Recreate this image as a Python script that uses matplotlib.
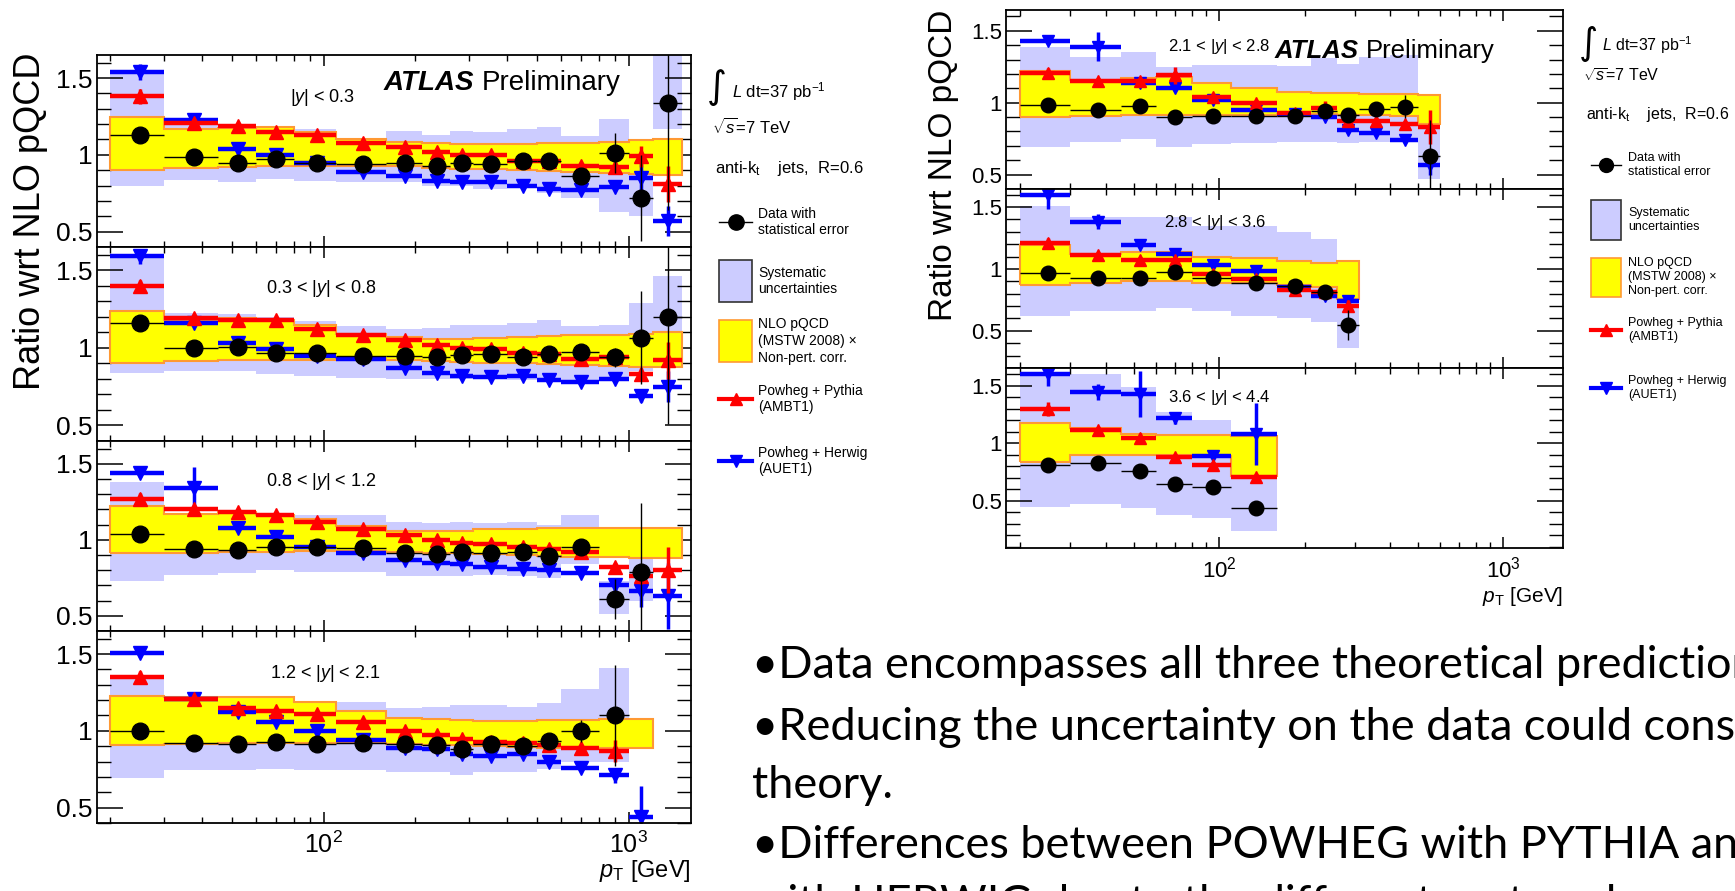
import numpy as np
import matplotlib
matplotlib.use('Agg')
import matplotlib.pyplot as plt
from matplotlib.patches import Rectangle
from matplotlib.lines import Line2D
from matplotlib.ticker import FixedLocator, MultipleLocator, NullFormatter

plt.rcParams['font.family'] = ['Liberation Sans', 'DejaVu Sans']
plt.rcParams['mathtext.fontset'] = 'custom'
plt.rcParams['mathtext.rm'] = 'Liberation Sans'
plt.rcParams['mathtext.it'] = 'Liberation Sans:italic'
plt.rcParams['mathtext.bf'] = 'Liberation Sans:bold'

# pT bin edges [GeV]
edges = [20, 30, 45, 60, 80, 110, 160, 210, 260, 310, 400, 500, 600, 800, 1000, 1200, 1500]

# left plot: 4 rapidity bins
rap_left = ['$|y|$ < 0.3', '0.3 < $|y|$ < 0.8', '0.8 < $|y|$ < 1.2', '1.2 < $|y|$ < 2.1']
data_left = [
    [1.13, 0.985, 0.946, 0.974, 0.95, 0.94, 0.946, 0.93, 0.95, 0.94, 0.957, 0.96, 0.865, 1.01, 0.72, 1.34],
    [1.16, 1.0, 1.005, 0.97, 0.97, 0.95, 0.945, 0.94, 0.955, 0.96, 0.94, 0.96, 0.975, 0.94, 1.065, 1.20],
    [1.035, 0.937, 0.935, 0.952, 0.952, 0.948, 0.91, 0.905, 0.92, 0.913, 0.92, 0.894, 0.95, 0.61, 0.79],
    [1.0, 0.924, 0.917, 0.928, 0.913, 0.922, 0.917, 0.907, 0.885, 0.913, 0.90, 0.933, 0.998, 1.10],
]
derr_left = [
    [0.01, 0.01, 0.01, 0.01, 0.01, 0.01, 0.01, 0.01, 0.01, 0.01, 0.01, 0.015, 0.03, 0.13, 0.28, 0.7],
    [0.01, 0.01, 0.01, 0.01, 0.01, 0.01, 0.01, 0.01, 0.01, 0.01, 0.01, 0.015, 0.03, 0.06, 0.30, 0.69],
    [0.01, 0.01, 0.01, 0.01, 0.01, 0.01, 0.01, 0.01, 0.01, 0.01, 0.01, 0.015, 0.03, 0.13, 0.45],
    [0.01, 0.01, 0.01, 0.01, 0.01, 0.01, 0.01, 0.01, 0.01, 0.01, 0.01, 0.02, 0.07, 0.33],
]
sys_lo_left = [
    [0.80, 0.835, 0.82, 0.845, 0.83, 0.82, 0.82, 0.80, 0.80, 0.78, 0.785, 0.75, 0.72, 0.63, 0.60, 1.17],
    [0.84, 0.85, 0.85, 0.83, 0.82, 0.805, 0.80, 0.80, 0.80, 0.80, 0.79, 0.78, 0.79, 0.79, 0.85, 0.87],
    [0.73, 0.77, 0.78, 0.80, 0.79, 0.79, 0.76, 0.76, 0.76, 0.77, 0.76, 0.75, 0.84, 0.51, 0.60],
    [0.696, 0.748, 0.745, 0.75, 0.745, 0.745, 0.735, 0.735, 0.71, 0.735, 0.73, 0.75, 0.80, 0.80],
]
sys_hi_left = [
    [1.54, 1.235, 1.20, 1.19, 1.17, 1.10, 1.157, 1.13, 1.157, 1.15, 1.17, 1.18, 1.12, 1.235, 0.90, 1.70],
    [1.58, 1.225, 1.22, 1.20, 1.17, 1.14, 1.12, 1.13, 1.15, 1.15, 1.16, 1.18, 1.14, 1.15, 1.29, 1.46],
    [1.38, 1.16, 1.17, 1.16, 1.165, 1.16, 1.115, 1.11, 1.12, 1.11, 1.12, 1.10, 1.165, 0.73, 0.95],
    [1.357, 1.22, 1.22, 1.20, 1.19, 1.19, 1.146, 1.157, 1.17, 1.17, 1.152, 1.18, 1.27, 1.41],
]
nlo_lo_left = [
    [0.90, 0.915, 0.92, 0.925, 0.925, 0.93, 0.93, 0.915, 0.91, 0.905, 0.90, 0.895, 0.89, 0.885, 0.875, 0.87],
    [0.90, 0.915, 0.92, 0.92, 0.92, 0.93, 0.92, 0.915, 0.91, 0.905, 0.90, 0.895, 0.89, 0.885, 0.88, 0.875],
    [0.91, 0.915, 0.92, 0.92, 0.925, 0.925, 0.92, 0.91, 0.91, 0.905, 0.90, 0.895, 0.89, 0.885, 0.88, 0.88],
    [0.906, 0.915, 0.92, 0.92, 0.92, 0.92, 0.915, 0.91, 0.905, 0.90, 0.895, 0.89, 0.89, 0.89, 0.89],
]
nlo_hi_left = [
    [1.245, 1.17, 1.175, 1.18, 1.15, 1.10, 1.085, 1.075, 1.07, 1.07, 1.07, 1.075, 1.08, 1.085, 1.095, 1.10],
    [1.24, 1.18, 1.19, 1.18, 1.15, 1.09, 1.07, 1.06, 1.06, 1.065, 1.07, 1.075, 1.08, 1.085, 1.09, 1.10],
    [1.225, 1.17, 1.18, 1.16, 1.14, 1.09, 1.06, 1.06, 1.06, 1.07, 1.07, 1.075, 1.075, 1.076, 1.076, 1.076],
    [1.226, 1.22, 1.22, 1.22, 1.19, 1.13, 1.085, 1.075, 1.07, 1.065, 1.065, 1.07, 1.07, 1.075, 1.075],
]
pyt_left = [
    [1.38, 1.21, 1.19, 1.15, 1.13, 1.08, 1.05, 1.02, 1.00, 1.00, 0.96, 0.96, 0.93, 0.92, 0.99, 0.81],
    [1.40, 1.19, 1.18, 1.18, 1.12, 1.08, 1.05, 1.02, 1.00, 0.99, 0.97, 0.96, 0.93, 0.94, 0.83, 0.92],
    [1.27, 1.20, 1.18, 1.16, 1.12, 1.07, 1.03, 1.00, 0.98, 0.97, 0.95, 0.94, 0.92, 0.82, 0.76, 0.80],
    [1.35, 1.21, 1.15, 1.13, 1.11, 1.06, 1.0, 0.97, 0.95, 0.93, 0.92, 0.91, 0.89, 0.87],
]
pyt_err_left = [
    [0.05, 0.02, 0.02, 0.02, 0.01, 0.01, 0.01, 0.01, 0.01, 0.01, 0.01, 0.01, 0.01, 0.02, 0.07, 0.12],
    [0.04, 0.02, 0.02, 0.02, 0.01, 0.01, 0.01, 0.01, 0.01, 0.01, 0.01, 0.01, 0.01, 0.02, 0.04, 0.12],
    [0.04, 0.02, 0.02, 0.02, 0.01, 0.01, 0.01, 0.01, 0.01, 0.01, 0.01, 0.01, 0.01, 0.03, 0.05, 0.15],
    [0.04, 0.02, 0.02, 0.02, 0.01, 0.01, 0.01, 0.01, 0.01, 0.01, 0.01, 0.01, 0.01, 0.07],
]
her_left = [
    [1.54, 1.23, 1.04, 1.00, 0.95, 0.89, 0.86, 0.83, 0.82, 0.82, 0.80, 0.78, 0.77, 0.79, 0.85, 0.57],
    [1.59, 1.16, 1.03, 0.99, 0.95, 0.93, 0.87, 0.84, 0.82, 0.81, 0.82, 0.79, 0.78, 0.80, 0.69, 0.75],
    [1.44, 1.34, 1.08, 1.02, 0.95, 0.91, 0.87, 0.85, 0.84, 0.82, 0.81, 0.80, 0.78, 0.70, 0.66, 0.63],
    [1.51, 1.21, 1.12, 1.06, 1.0, 0.94, 0.89, 0.885, 0.85, 0.835, 0.85, 0.80, 0.76, 0.71, 0.44],
]
her_err_left = [
    [0.05, 0.02, 0.02, 0.02, 0.01, 0.01, 0.01, 0.01, 0.01, 0.01, 0.01, 0.01, 0.01, 0.02, 0.10, 0.10],
    [0.05, 0.02, 0.02, 0.02, 0.01, 0.01, 0.01, 0.01, 0.01, 0.01, 0.01, 0.01, 0.01, 0.02, 0.04, 0.10],
    [0.03, 0.14, 0.02, 0.02, 0.01, 0.01, 0.01, 0.01, 0.01, 0.01, 0.01, 0.01, 0.01, 0.04, 0.10, 0.22],
    [0.03, 0.02, 0.02, 0.02, 0.01, 0.01, 0.01, 0.01, 0.01, 0.01, 0.01, 0.01, 0.01, 0.05, 0.20],
]

# right plot: 3 forward rapidity bins
rap_right = ['2.1 < $|y|$ < 2.8', '2.8 < $|y|$ < 3.6', '3.6 < $|y|$ < 4.4']
data_right = [
    [0.984, 0.95, 0.977, 0.90, 0.91, 0.91, 0.91, 0.94, 0.914, 0.954, 0.972, 0.63],
    [0.963, 0.927, 0.927, 0.973, 0.927, 0.887, 0.86, 0.815, 0.545],
    [0.81, 0.83, 0.76, 0.65, 0.62, 0.44],
]
derr_right = [
    [0.01, 0.01, 0.01, 0.01, 0.01, 0.01, 0.01, 0.01, 0.02, 0.03, 0.08, 0.25],
    [0.01, 0.01, 0.01, 0.01, 0.01, 0.01, 0.01, 0.02, 0.12],
    [0.02, 0.02, 0.02, 0.02, 0.02, 0.02],
]
sys_lo_right = [
    [0.694, 0.73, 0.75, 0.69, 0.71, 0.72, 0.73, 0.73, 0.72, 0.73, 0.73, 0.47],
    [0.618, 0.66, 0.66, 0.685, 0.66, 0.62, 0.605, 0.57, 0.36],
    [0.45, 0.47, 0.44, 0.377, 0.355, 0.24],
]
sys_hi_right = [
    [1.39, 1.315, 1.355, 1.25, 1.26, 1.26, 1.255, 1.31, 1.27, 1.315, 1.33, 0.88],
    [1.51, 1.42, 1.42, 1.42, 1.35, 1.35, 1.30, 1.24, 0.76],
    [1.603, 1.60, 1.49, 1.27, 1.20, 1.07],
]
nlo_lo_right = [
    [0.898, 0.907, 0.915, 0.915, 0.915, 0.915, 0.92, 0.92, 0.915, 0.915, 0.91, 0.85],
    [0.874, 0.89, 0.90, 0.90, 0.89, 0.89, 0.87, 0.85, 0.76],
    [0.84, 0.90, 0.90, 0.90, 0.89, 0.716],
]
nlo_hi_right = [
    [1.223, 1.158, 1.17, 1.18, 1.14, 1.10, 1.077, 1.07, 1.07, 1.06, 1.06, 1.053],
    [1.19, 1.124, 1.134, 1.134, 1.10, 1.09, 1.06, 1.05, 1.06],
    [1.18, 1.13, 1.08, 1.07, 1.07, 1.064],
]
pyt_right = [
    [1.21, 1.15, 1.15, 1.19, 1.04, 1.00, 0.93, 0.96, 0.87, 0.87, 0.85, 0.83],
    [1.21, 1.11, 1.075, 1.075, 0.955, 0.92, 0.83, 0.81, 0.70],
    [1.30, 1.12, 1.05, 0.88, 0.81, 0.71],
]
pyt_err_right = [
    [0.03, 0.02, 0.02, 0.06, 0.02, 0.02, 0.02, 0.05, 0.02, 0.02, 0.02, 0.12],
    [0.04, 0.02, 0.02, 0.02, 0.02, 0.02, 0.02, 0.02, 0.05],
    [0.06, 0.02, 0.04, 0.02, 0.02, 0.02],
]
her_right = [
    [1.43, 1.39, 1.14, 1.10, 1.02, 0.95, 0.92, 0.90, 0.81, 0.79, 0.74, 0.57],
    [1.60, 1.38, 1.195, 1.12, 1.03, 0.98, 0.85, 0.78, 0.74],
    [1.60, 1.45, 1.43, 1.22, 0.89, 1.08],
]
her_err_right = [
    [0.02, 0.10, 0.02, 0.02, 0.02, 0.02, 0.02, 0.02, 0.02, 0.02, 0.02, 0.07],
    [0.12, 0.06, 0.03, 0.02, 0.02, 0.02, 0.02, 0.02, 0.05],
    [0.10, 0.07, 0.20, 0.05, 0.02, 0.27],
]

bullets = [
    '\u2022Data encompasses all three theoretical predictions.',
    '\u2022Reducing the uncertainty on the data could constrain the',
    'theory.',
    '\u2022Differences between POWHEG with PYTHIA and POWHEG',
    'with HERWIG due to the different parton showers',
]

SYS = '#ccccff'
NLO = '#ffff00'
NLO_EDGE = '#ff9933'
RED = '#ff0000'
BLUE = '#0000ff'

W, H = 1735, 891
fig = plt.figure(figsize=(W / 100, H / 100), dpi=100)


def add_ax(x0, x1, yt, yb):
    return fig.add_axes([x0 / W, 1 - yb / H, (x1 - x0) / W, (yb - yt) / H])


def ftext(x, y, s, **kw):
    return fig.text(x / W, 1 - y / H, s, **kw)


def draw_panel(ax, i, data, derr, slo, shi, nlo, nhi, pyt, pyte, her, here, ms_d, ms_mc):
    e = np.array(edges, dtype=float)
    n = len(slo[i])
    ax.bar(e[:n], np.array(shi[i]) - np.array(slo[i]), width=np.diff(e)[:n], bottom=slo[i],
           align='edge', color=SYS, linewidth=0, zorder=1)
    n = len(nlo[i])
    ax.stairs(nhi[i], e[:n + 1], baseline=nlo[i], fill=True, facecolor=NLO,
              edgecolor=NLO_EDGE, linewidth=1.5, zorder=2)
    for vals, errs, col, mk, z in [(her[i], here[i], BLUE, 'v', 3), (pyt[i], pyte[i], RED, '^', 4)]:
        n = len(vals)
        lo, hi = e[:n], e[1:n + 1]
        c = (lo + hi) / 2
        ax.hlines(vals, lo, hi, colors=col, linewidth=3.2, zorder=z)
        ax.errorbar(c, vals, yerr=errs, fmt=mk, color=col, ms=ms_mc, elinewidth=2.5,
                    capsize=0, zorder=z)
    n = len(data[i])
    lo, hi = e[:n], e[1:n + 1]
    c = (lo + hi) / 2
    ax.errorbar(c, data[i], xerr=[c - lo, hi - c], yerr=derr[i], fmt='o', color='k',
                ms=ms_d, elinewidth=1.0, capsize=0, zorder=5)


def style_ax(ax, xlim, ylim, bottom, yfs, xfs):
    ax.set_xscale('log')
    ax.set_xlim(*xlim)
    ax.set_ylim(*ylim)
    ax.xaxis.set_major_locator(FixedLocator([100, 1000]))
    ax.xaxis.set_minor_locator(FixedLocator([20, 30, 40, 50, 60, 70, 80, 90,
                                             200, 300, 400, 500, 600, 700, 800, 900]))
    ax.xaxis.set_minor_formatter(NullFormatter())
    if bottom:
        ax.set_xticklabels(['$10^{2}$', '$10^{3}$'], fontsize=xfs)
    else:
        ax.set_xticklabels([])
    ax.set_yticks([0.5, 1, 1.5], ['0.5', '1', '1.5'], fontsize=yfs)
    ax.yaxis.set_minor_locator(MultipleLocator(0.1))
    ax.tick_params(axis='x', which='major', direction='in', top=True, length=8, width=1.1, pad=6)
    ax.tick_params(axis='x', which='minor', direction='in', top=True, length=4, width=1.0)
    ax.tick_params(axis='y', which='major', direction='in', right=True, length=19, width=1.1, pad=3)
    ax.tick_params(axis='y', which='minor', direction='in', right=True, length=10, width=1.0)
    for s in ax.spines.values():
        s.set_linewidth(1.3)
        s.set_zorder(6)


# ---- left plot
left_rows = [(55, 247), (247, 441), (441, 631), (631, 823)]
left_lab = [(290, 97), (266, 288), (266, 482), (270, 673)]
for i, (yt, yb) in enumerate(left_rows):
    ax = add_ax(97, 691, yt, yb)
    draw_panel(ax, i, data_left, derr_left, sys_lo_left, sys_hi_left, nlo_lo_left, nlo_hi_left,
               pyt_left, pyt_err_left, her_left, her_err_left, 12, 9.5)
    style_ax(ax, (18.1, 1600), (0.4, 1.65), i == 3, 19, 18)
    ftext(*left_lab[i], rap_left[i], fontsize=13, va='center')

# ---- right plot
right_rows = [(10, 189), (189, 368), (368, 548)]
right_ylim = [(0.4, 1.645), (0.2, 1.645), (0.09, 1.656)]
right_lab = [(1168, 47), (1164, 222), (1168, 398)]
for i, (yt, yb) in enumerate(right_rows):
    ax = add_ax(1006, 1563, yt, yb)
    draw_panel(ax, i, data_right, derr_right, sys_lo_right, sys_hi_right, nlo_lo_right,
               nlo_hi_right, pyt_right, pyt_err_right, her_right, her_err_right, 10.5, 8.5)
    style_ax(ax, (17.8, 1620), right_ylim[i], i == 2, 16, 16)
    ftext(*right_lab[i], rap_right[i], fontsize=12, va='center')

# axis titles
ftext(30, 52, 'Ratio wrt NLO pQCD', fontsize=26, rotation=90, ha='center', va='top')
ftext(943, 10, 'Ratio wrt NLO pQCD', fontsize=24, rotation=90, ha='center', va='top')
ftext(691, 871, r'$p_{\rm T}$ [GeV]', fontsize=17, ha='right', va='center')
ftext(1563, 597, r'$p_{\rm T}$ [GeV]', fontsize=15, ha='right', va='center')

renderer = fig.canvas.get_renderer()


def atlas(x, y, fs):
    t = ftext(x, y, 'ATLAS', fontsize=fs, fontweight='bold', fontstyle='italic', va='center')
    bb = t.get_window_extent(renderer=renderer)
    fig.text(bb.x1 / W + 0.004, 1 - y / H, 'Preliminary', fontsize=fs, va='center')


atlas(384, 83, 20)
atlas(1275, 51, 18.5)


def legend(xint, yint, xl, yl, xs, ys, xa, ya, mx0, mx1, xt, yd, ysys, ynlo, yp, yh, bh, fs1, fs2, ms):
    ftext(xint, yint, '\u222b', family='DejaVu Sans', fontsize=fs1 * 2.3, ha='center', va='center')
    ftext(xl, yl, r'$L$ dt=37 pb$^{-1}$', fontsize=fs1, va='center')
    ftext(xs, ys, r'$\sqrt{s}$=7 TeV', fontsize=fs1, va='center')
    ftext(xa, ya, r'anti-k$_{\rm t}$    jets,  R=0.6', fontsize=fs1, va='center')
    mc = (mx0 + mx1) / 2
    tr = fig.transFigure
    fig.add_artist(Line2D([mx0 / W, mx1 / W], [1 - yd / H] * 2, color='k', lw=1.0, transform=tr))
    fig.add_artist(Line2D([mc / W], [1 - yd / H], marker='o', color='k', ms=ms, transform=tr))
    ftext(xt, yd, 'Data with\nstatistical error', fontsize=fs2, va='center', linespacing=1.2)
    fig.add_artist(Rectangle((mx0 / W, 1 - (ysys + bh / 2) / H), (mx1 - mx0) / W, bh / H,
                             facecolor=SYS, edgecolor='#333333', lw=1.2, transform=tr))
    ftext(xt, ysys, 'Systematic\nuncertainties', fontsize=fs2, va='center', linespacing=1.25)
    fig.add_artist(Rectangle((mx0 / W, 1 - (ynlo + bh / 2) / H), (mx1 - mx0) / W, bh / H,
                             facecolor=NLO, edgecolor=NLO_EDGE, lw=1.2, transform=tr))
    ftext(xt, ynlo, 'NLO pQCD\n(MSTW 2008) \u00d7\nNon-pert. corr.', fontsize=fs2, va='center',
          linespacing=1.25)
    for y, col, mk, lab in [(yp, RED, '^', 'Powheg + Pythia\n(AMBT1)'),
                            (yh, BLUE, 'v', 'Powheg + Herwig\n(AUET1)')]:
        fig.add_artist(Line2D([mx0 / W, mx1 / W], [1 - y / H] * 2, color=col, lw=3, transform=tr))
        fig.add_artist(Line2D([mc / W], [1 - y / H], marker=mk, color=col, ms=ms * 0.8,
                              transform=tr))
        ftext(xt, y, lab, fontsize=fs2, va='center', linespacing=1.25)


legend(717, 88, 732, 92, 712, 127, 715, 168, 719, 752, 758, 222, 281, 341, 399, 461, 42, 12, 10, 11)
legend(1588, 43, 1602, 45, 1583, 76, 1586, 115, 1591, 1621, 1628, 165, 220, 277, 330, 388, 39, 11.5, 9, 10)

# slide bullet text (runs off the right/bottom edge like the original slide)
for s, y in zip(bullets, [666, 727, 785, 845, 905]):
    ftext(752, y, s, family=['Lato', 'DejaVu Sans'], fontsize=32.5, va='center')

fig.savefig('out.png', dpi=100)
